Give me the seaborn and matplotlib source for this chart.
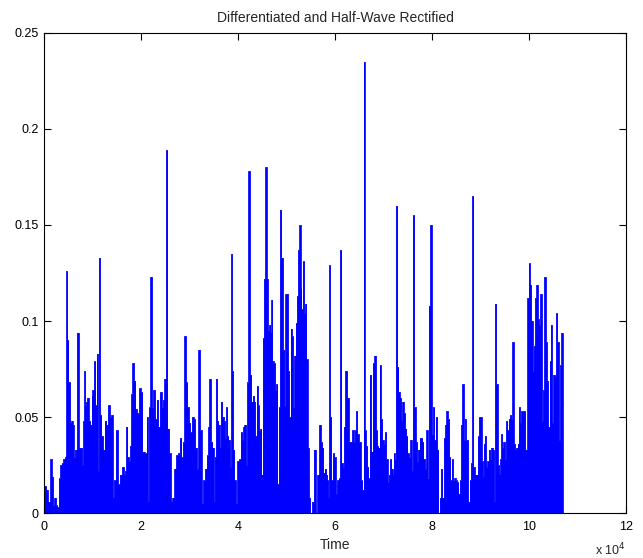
import matplotlib
matplotlib.use("Agg")
import matplotlib.pyplot as plt
import seaborn as sns
import pandas as pd
from matplotlib.ticker import FuncFormatter

# Onset-detection envelope: time in units of 1e4 samples, amplitude after
# differentiation and half-wave rectification.
time_1e4 = [
    0.00, 0.03, 0.06, 0.09, 0.12, 0.144, 0.17, 0.20, 0.23, 0.26, 0.29, 0.32,
    0.35, 0.38, 0.41, 0.44, 0.455, 0.47, 0.49, 0.52, 0.55, 0.58, 0.60, 0.62,
    0.66, 0.70, 0.73, 0.77, 0.80, 0.82, 0.84, 0.86, 0.88, 0.90, 0.94, 0.97,
    0.99, 1.01, 1.05, 1.07, 1.10, 1.12, 1.14, 1.17, 1.20, 1.23, 1.27, 1.30,
    1.34, 1.37, 1.40, 1.43, 1.46, 1.50, 1.54, 1.59, 1.63, 1.66,
    1.68, 1.71, 1.73, 1.76, 1.79, 1.81, 1.84, 1.87, 1.90, 1.94, 1.98, 2.01,
    2.05, 2.10, 2.13, 2.15, 2.18, 2.21, 2.24, 2.27, 2.31, 2.34, 2.37, 2.41,
    2.44, 2.47, 2.50, 2.53, 2.56, 2.60, 2.63, 2.67, 2.71, 2.74, 2.78, 2.82,
    2.85, 2.88, 2.91, 2.94, 2.97, 3.00, 3.03, 3.07, 3.10, 3.13, 3.17, 3.20,
    3.23, 3.27, 3.30, 3.34, 3.37, 3.40,
    3.42, 3.46, 3.49, 3.51, 3.53, 3.56, 3.58, 3.61, 3.63, 3.66, 3.69, 3.72,
    3.74, 3.77, 3.79, 3.82, 3.85, 3.87, 3.89, 3.91, 3.94, 3.97, 4.00, 4.04,
    4.07, 4.10, 4.12, 4.15, 4.18, 4.20, 4.23, 4.26, 4.29, 4.32, 4.34, 4.37,
    4.40, 4.42, 4.45, 4.47, 4.50, 4.52, 4.55, 4.58, 4.60, 4.63, 4.66, 4.68,
    4.70, 4.72, 4.75, 4.78, 4.80, 4.83, 4.85, 4.88, 4.91, 4.94, 4.97, 4.99,
    5.02, 5.04, 5.07, 5.10, 5.12, 5.15, 5.18, 5.20, 5.23,
    5.25, 5.28, 5.30, 5.32, 5.35, 5.38, 5.40, 5.42, 5.45, 5.47, 5.51, 5.55,
    5.58, 5.62, 5.66, 5.69, 5.72, 5.75, 5.77, 5.80, 5.83, 5.85, 5.87, 5.89,
    5.91, 5.94, 5.97, 6.00, 6.03, 6.06, 6.09, 6.12, 6.15, 6.17, 6.20, 6.23,
    6.27, 6.30, 6.34, 6.37, 6.40, 6.42, 6.45, 6.47, 6.51, 6.55, 6.58, 6.60,
    6.62, 6.65, 6.68, 6.70, 6.73, 6.76, 6.80, 6.83, 6.86, 6.88, 6.91,
    6.93, 6.96, 6.99, 7.02, 7.04, 7.07, 7.10, 7.12, 7.15, 7.18, 7.20, 7.22,
    7.24, 7.27, 7.30, 7.32, 7.35, 7.38, 7.40, 7.43, 7.46, 7.48, 7.51, 7.54,
    7.57, 7.59, 7.62, 7.65, 7.68, 7.70, 7.73, 7.76, 7.79, 7.81, 7.84, 7.87,
    7.90, 7.92, 7.95, 7.98, 8.01, 8.04, 8.06, 8.09, 8.12, 8.15, 8.17, 8.20,
    8.23, 8.26, 8.29, 8.31, 8.34, 8.37, 8.39, 8.42, 8.45, 8.48, 8.50, 8.53,
    8.56, 8.59, 8.61, 8.64, 8.67, 8.69, 8.71, 8.73, 8.76, 8.79, 8.82, 8.84,
    8.87, 8.90, 8.93, 8.96, 8.98, 9.01, 9.04, 9.06, 9.08, 9.10, 9.13, 9.16,
    9.19, 9.21, 9.24, 9.27, 9.29, 9.31, 9.34, 9.37, 9.40, 9.42, 9.44, 9.46,
    9.49, 9.52, 9.54, 9.57, 9.60, 9.62, 9.65, 9.67, 9.70, 9.73, 9.75, 9.78,
    9.80, 9.83, 9.85, 9.88, 9.91, 9.94, 9.96, 9.98, 10.01, 10.03, 10.06, 10.09,
    10.11, 10.14, 10.17, 10.19, 10.22, 10.25, 10.28, 10.30, 10.33, 10.36,
    10.38, 10.41, 10.44, 10.46, 10.49, 10.52, 10.55, 10.57, 10.60, 10.63,
    10.66, 10.68, 10.71,
]

amplitude = [
    0.014, 0.014, 0.012, 0.006, 0.006, 0.028, 0.019, 0.004, 0.008, 0.004, 0.003, 0.018,
    0.025, 0.026, 0.028, 0.029, 0.030, 0.126, 0.090, 0.068, 0.047, 0.048, 0.046, 0.029,
    0.033, 0.094, 0.034, 0.034, 0.025, 0.048, 0.074, 0.056, 0.058, 0.060, 0.048, 0.046,
    0.061, 0.064, 0.079, 0.056, 0.083, 0.022, 0.133, 0.051, 0.040, 0.033, 0.048, 0.046,
    0.056, 0.050, 0.051, 0.008, 0.017, 0.043, 0.015, 0.020, 0.024, 0.020,
    0.022, 0.045, 0.029, 0.027, 0.035, 0.062, 0.078, 0.069, 0.054, 0.052, 0.065, 0.063,
    0.032, 0.031, 0.050, 0.006, 0.055, 0.123, 0.055, 0.064, 0.049, 0.059, 0.045, 0.063,
    0.055, 0.059, 0.070, 0.189, 0.044, 0.031, 0.006, 0.008, 0.023, 0.030, 0.031, 0.039,
    0.029, 0.037, 0.092, 0.068, 0.055, 0.047, 0.042, 0.050, 0.049, 0.034, 0.023, 0.085,
    0.043, 0.005, 0.017, 0.023, 0.030, 0.045,
    0.070, 0.037, 0.034, 0.006, 0.029, 0.070, 0.048, 0.046, 0.034, 0.058, 0.050, 0.048,
    0.039, 0.055, 0.040, 0.038, 0.024, 0.135, 0.074, 0.033, 0.017, 0.005, 0.027, 0.028,
    0.042, 0.038, 0.045, 0.046, 0.025, 0.068, 0.178, 0.072, 0.058, 0.061, 0.058, 0.040,
    0.066, 0.056, 0.043, 0.044, 0.020, 0.091, 0.122, 0.180, 0.122, 0.095, 0.098, 0.094,
    0.111, 0.079, 0.078, 0.064, 0.067, 0.015, 0.055, 0.158, 0.133, 0.085, 0.056, 0.114,
    0.114, 0.074, 0.050, 0.096, 0.092, 0.055, 0.082, 0.099, 0.113,
    0.137, 0.150, 0.117, 0.106, 0.131, 0.104, 0.109, 0.080, 0.034, 0.008, 0.000, 0.006,
    0.033, 0.000, 0.020, 0.046, 0.037, 0.034, 0.021, 0.023, 0.020, 0.017, 0.008, 0.129,
    0.050, 0.017, 0.031, 0.029, 0.010, 0.017, 0.018, 0.137, 0.026, 0.024, 0.045, 0.074,
    0.060, 0.037, 0.037, 0.043, 0.037, 0.043, 0.053, 0.041, 0.037, 0.017, 0.012, 0.235,
    0.043, 0.035, 0.024, 0.018, 0.072, 0.032, 0.078, 0.082, 0.043, 0.035, 0.034,
    0.077, 0.049, 0.038, 0.036, 0.042, 0.028, 0.016, 0.020, 0.028, 0.023, 0.020, 0.031,
    0.028, 0.160, 0.076, 0.063, 0.060, 0.048, 0.058, 0.052, 0.044, 0.040, 0.031, 0.029,
    0.038, 0.022, 0.155, 0.055, 0.037, 0.027, 0.033, 0.039, 0.039, 0.037, 0.028, 0.023,
    0.043, 0.018, 0.108, 0.150, 0.041, 0.055, 0.038, 0.050, 0.033, 0.000, 0.008, 0.023,
    0.008, 0.039, 0.046, 0.053, 0.049, 0.029, 0.017, 0.028, 0.017, 0.018, 0.017, 0.016,
    0.010, 0.017, 0.046, 0.067, 0.038, 0.049, 0.038, 0.038, 0.006, 0.017, 0.026, 0.165,
    0.024, 0.020, 0.020, 0.040, 0.050, 0.050, 0.027, 0.019, 0.036, 0.040, 0.024, 0.027,
    0.033, 0.028, 0.034, 0.033, 0.006, 0.109, 0.067, 0.025, 0.020, 0.028, 0.041, 0.034,
    0.037, 0.028, 0.048, 0.043, 0.049, 0.051, 0.049, 0.089, 0.036, 0.033, 0.034, 0.036,
    0.055, 0.047, 0.053, 0.053, 0.053, 0.033, 0.033, 0.112, 0.130, 0.119, 0.100, 0.074,
    0.087, 0.112, 0.119, 0.101, 0.098, 0.114, 0.048, 0.064, 0.123, 0.089,
    0.069, 0.045, 0.079, 0.098, 0.047, 0.072, 0.071, 0.104, 0.089, 0.038,
    0.077, 0.094, 0.057,
]

x_ticks = [0, 2, 4, 6, 8, 10, 12]
y_ticks = [0, 0.05, 0.1, 0.15, 0.2, 0.25]

df = pd.DataFrame({"Time": [t * 1e4 for t in time_1e4], "Amplitude": amplitude})

sns.set_style("white")
plt.rcParams["font.family"] = ["Liberation Sans", "DejaVu Sans"]

fig = plt.figure(figsize=(6.43, 5.58), dpi=100)
ax = fig.add_axes([0.0684, 0.0806, 0.905, 0.8603])

blue = (0.0, 0.0, 1.0)
ax.fill_between(df["Time"], 0, df["Amplitude"], step="mid", color=blue, linewidth=0)
sns.lineplot(data=df, x="Time", y="Amplitude", ax=ax, color=blue, linewidth=0.6,
             drawstyle="steps-mid", estimator=None, sort=False)

ax.set_xlim(0, 12e4)
ax.set_ylim(0, 0.25)
ax.set_xticks([v * 1e4 for v in x_ticks])
ax.xaxis.set_major_formatter(FuncFormatter(lambda v, _: f"{v / 1e4:g}"))
ax.set_yticks(y_ticks)
ax.yaxis.set_major_formatter(FuncFormatter(lambda v, _: f"{v:g}"))

for side in ["top", "right", "bottom", "left"]:
    ax.spines[side].set_visible(True)
    ax.spines[side].set_color("black")
    ax.spines[side].set_linewidth(0.8)
ax.tick_params(direction="in", length=5, width=0.8, top=True, right=True,
               bottom=True, left=True, labelsize=9, colors="black")
ax.tick_params(axis="x", pad=6)
ax.tick_params(axis="y", pad=4)

ax.set_xlabel("Time", fontsize=10, labelpad=3)
ax.set_ylabel("")
ax.set_title("Differentiated and Half-Wave Rectified", fontsize=10, pad=8)
ax.text(1.0, -0.077, r"x 10$^4$", transform=ax.transAxes, ha="right",
        va="center", fontsize=9)

fig.savefig("out.png", dpi=100, facecolor="white")
